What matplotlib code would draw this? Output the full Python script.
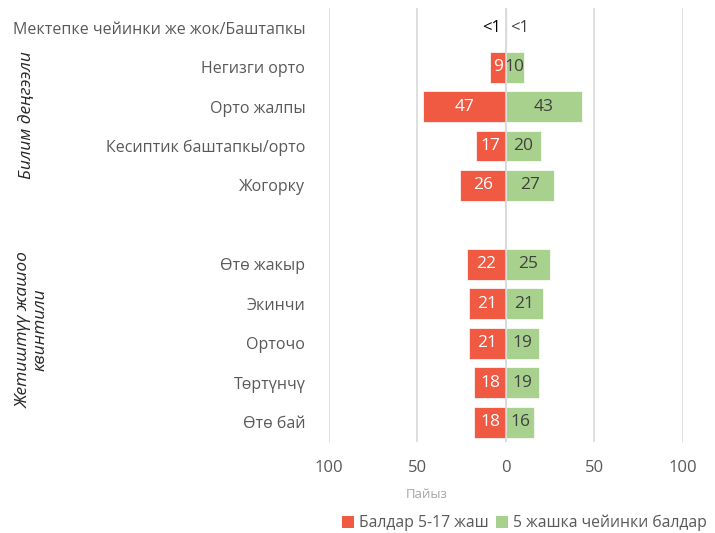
import matplotlib
matplotlib.use("Agg")
import matplotlib.pyplot as plt
from matplotlib.patches import Patch
import numpy as np

categories = ["Мектепке чейинки же жок/Баштапкы", "Негизги орто", "Орто жалпы",
              "Кесиптик баштапкы/орто", "Жогорку", "",
              "Өтө жакыр", "Экинчи", "Орточо", "Төртүнчү", "Өтө бай"]
older = [0.4, 9, 47, 17, 26, None, 22, 21, 21, 18, 18]
younger = [0.4, 10, 43, 20, 27, None, 25, 21, 19, 19, 16]
older_labels = ["<1", "9", "47", "17", "26", "", "22", "21", "21", "18", "18"]
younger_labels = ["<1", "10", "43", "20", "27", "", "25", "21", "19", "19", "16"]
xticks = [-100, -50, 0, 50, 100]
xtick_labels = ["100", "50", "0", "50", "100"]
series_names = ["Балдар 5-17 жаш", "5 жашка чейинки балдар"]
group_names = ["Билим деңгээли", "Жетиштүү жашоо\nквинтили"]

RED = "#F15A42"
GREEN = "#A9D18E"
plt.rcParams['font.family'] = ['Open Sans', 'DejaVu Sans']

fig = plt.figure(figsize=(7.15, 5.33), dpi=100)
ax = fig.add_axes([0.460, 0.171, 0.495, 0.814])

y = np.arange(len(categories))
o = np.array([np.nan if v is None else v for v in older])
g = np.array([np.nan if v is None else v for v in younger])
ax.barh(y, -o, height=0.78, color=RED, edgecolor="white", linewidth=0.5, zorder=3)
ax.barh(y, g, height=0.78, color=GREEN, edgecolor="white", linewidth=0.5, zorder=3)

FS = 12.5
for i in range(len(categories)):
    if older[i] is None:
        continue
    if older_labels[i] == "<1":
        ax.text(-older[i] - 2.5, y[i], older_labels[i], ha="right", va="center",
                fontsize=FS - 0.5, color="black", zorder=4)
        ax.text(younger[i] + 2, y[i], younger_labels[i], ha="left", va="center",
                fontsize=FS - 0.5, color="#404040", zorder=4)
    else:
        ax.text(-older[i] / 2, y[i], older_labels[i], ha="center", va="center",
                fontsize=FS, color="white", zorder=4)
        ax.text(younger[i] / 2, y[i], younger_labels[i], ha="center", va="center",
                fontsize=FS, color="#404040", zorder=4)

ax.set_xlim(-100, 100)
ax.set_ylim(len(categories) - 0.5, -0.5)
ax.set_xticks(xticks)
ax.set_xticklabels(xtick_labels, fontsize=12, color="#595959")
ax.set_yticks(y)
ax.set_yticklabels(categories, fontsize=11.5, color="#595959")
ax.tick_params(axis="both", length=0)
ax.tick_params(axis="x", pad=13)
ax.tick_params(axis="y", pad=17)
for s in ax.spines.values():
    s.set_visible(False)
ax.grid(axis="x", color="#D9D9D9", linewidth=1.2, zorder=0)
ax.axvline(0, color="#D9D9D9", linewidth=1.2, zorder=5)

fig.text(427 / 715, 1 - 495 / 533, "Пайыз", ha="center", va="center",
         fontsize=9.5, color="#A6A6A6")
fig.text(27 / 715, 1 - 115 / 533, group_names[0], rotation=90, style="italic",
         ha="center", va="center", fontsize=12.5, color="#262626")
fig.text(32 / 715, 1 - 330 / 533, group_names[1], rotation=90, style="italic",
         ha="center", va="center", fontsize=12.5, color="#262626", multialignment="center",
         linespacing=1.1)

handles = [Patch(facecolor=RED), Patch(facecolor=GREEN)]
fig.legend(handles, series_names, loc="center right", bbox_to_anchor=(716 / 715, 1 - 523 / 533),
           ncol=2, frameon=False, fontsize=11.3, handlelength=0.75, handleheight=0.75,
           handletextpad=0.3, columnspacing=0.5, labelcolor="#595959", borderpad=0.1)

fig.savefig("out.png", dpi=100)
